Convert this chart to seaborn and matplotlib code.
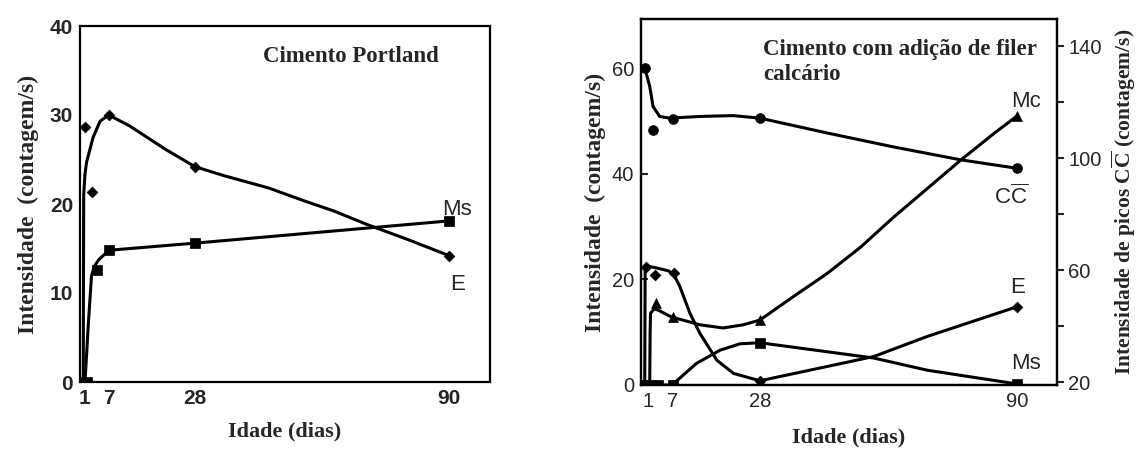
import matplotlib
matplotlib.use("Agg")
import matplotlib.pyplot as plt
import seaborn as sns
import numpy as np
from matplotlib.ticker import FixedLocator, NullFormatter

sns.set_theme(style="white")
plt.rcParams["font.family"] = ["Liberation Sans", "DejaVu Sans"]
plt.rcParams["mathtext.fontset"] = "custom"
plt.rcParams["mathtext.bf"] = "Liberation Serif:bold"
plt.rcParams["mathtext.sf"] = "Liberation Sans"
plt.rcParams["mathtext.rm"] = "Liberation Sans"

# ---------------- Data: Cimento Portland (left) ----------------
x_ticks = [1, 7, 28, 90]
pc_E_days = [1.2, 2.9, 7, 28, 90]
pc_E_vals = [28.6, 21.3, 30.0, 24.2, 14.2]
pc_E_curve_days = [0.8, 0.85, 0.9, 1.2, 1.6, 3.2, 4.9, 7, 12, 17, 21, 28, 35, 46, 55, 62, 70, 80, 90]
pc_E_curve_vals = [0, 12, 21, 23.3, 24.7, 27.5, 29.3, 30.0, 28.8, 27.3, 26.1, 24.2, 23.2, 21.8, 20.3, 19.2, 17.7, 16.0, 14.2]

pc_Ms_days = [0.4, 1.6, 4.2, 7, 28, 90]
pc_Ms_vals = [0, 0, 12.6, 14.8, 15.6, 18.1]
pc_Ms_curve_days = [1.2, 1.6, 2.0, 2.8, 3.5, 4.5, 7, 28, 90]
pc_Ms_curve_vals = [0, 3.0, 6.3, 11.9, 13.0, 13.7, 14.8, 15.6, 18.1]

# ---------------- Data: Cimento com filer (right) ----------------
fc_CC_days = [0.2, 2.2, 7, 28, 90]            # right axis units
fc_CC_vals = [132.2, 109.9, 114.0, 114.3, 96.4]
fc_CC_curve_days = [0.2, 1.4, 2.2, 3.8, 6.2, 13.5, 21.5, 28, 44.2, 60.3, 76.5, 90]
fc_CC_curve_vals = [132.2, 125.7, 118.5, 114.9, 114.3, 114.9, 115.2, 114.3, 109.0, 104.0, 99.4, 96.4]

fc_E_days = [0.6, 2.7, 7.2, 28, 90]
fc_E_vals = [22.4, 20.8, 21.3, 0.8, 14.8]
fc_E_curve_days = [0.2, 0.3, 1.0, 3.4, 6.0, 7.5, 8.7, 11.1, 13.5, 17.6, 21.6, 28, 44.2, 55.5, 68.4, 90]
fc_E_curve_vals = [0, 22.4, 22.5, 22.1, 21.6, 20.5, 18.6, 13.6, 9.8, 4.7, 2.2, 0.8, 3.5, 5.4, 9.2, 14.8]

fc_Mc_days = [2.9, 7, 28, 90]
fc_Mc_vals = [15.5, 12.8, 12.4, 50.9]
fc_Mc_curve_days = [1.4, 1.5, 1.6, 2.5, 3.4, 6.6, 13.5, 19.1, 24, 28, 36, 44.2, 52.3, 60.3, 68.4, 76.5, 84.6, 90]
fc_Mc_curve_vals = [0, 10, 13.6, 14.4, 14.2, 12.9, 11.4, 10.8, 11.4, 12.3, 16.7, 21.1, 26.1, 31.8, 37.2, 42.6, 47.7, 50.9]

fc_Ms_days = [-0.2, 1.8, 3.4, 7, 28, 90]
fc_Ms_vals = [0, 0, 0, 0, 8.0, 0.2]
fc_Ms_curve_days = [-0.2, 7, 7.5, 12.7, 18.4, 23.2, 28, 44.2, 55.5, 68.4, 90]
fc_Ms_curve_vals = [0, 0, 0.5, 4.1, 6.6, 7.8, 8.0, 6.3, 5.1, 2.8, 0.2]

# ---------------- Figure ----------------
fig = plt.figure(figsize=(11.42, 4.49), dpi=100)
axL = fig.add_axes([80/1142, 1-382/449, 410/1142, 356/449])
axR = fig.add_axes([641/1142, 1-385/449, 416/1142, 366/449])

serif = ["Liberation Serif", "DejaVu Serif"]
LW = 2.2

def curve(ax, xs, ys):
    sns.lineplot(x=xs, y=ys, ax=ax, color="black", lw=LW, sort=False, estimator=None)

def marks(ax, xs, ys, m, s=38):
    sns.scatterplot(x=xs, y=ys, ax=ax, color="black", marker=m, s=s, edgecolor="black", linewidth=0.5, zorder=5)

# Left panel
curve(axL, pc_E_curve_days, pc_E_curve_vals)
curve(axL, pc_Ms_curve_days, pc_Ms_curve_vals)
marks(axL, pc_E_days, pc_E_vals, "D", 30)
marks(axL, pc_Ms_days, pc_Ms_vals, "s", 45)
axL.set_xlim(0, 100)
axL.set_ylim(0, 40)
axL.set_xticks(x_ticks)
axL.set_yticks([0, 10, 20, 30, 40])
for lab in axL.get_xticklabels() + axL.get_yticklabels():
    lab.set_fontweight("bold")
axL.tick_params(direction="in", length=5, width=1.5, labelsize=15, pad=5)
axL.set_xlabel("Idade (dias)", family=serif, fontweight="bold", fontsize=16, labelpad=10)
axL.set_ylabel("Intensidade  (contagem/s)", family=serif, fontweight="bold", fontsize=17, labelpad=8)
axL.text(0.661, 0.913, "Cimento Portland", transform=axL.transAxes, ha="center", va="center",
         family=serif, fontweight="bold", fontsize=16.5)
axL.text(92, 19.4, "Ms", ha="center", va="center", fontsize=16)
axL.text(92.2, 10.9, "E", ha="center", va="center", fontsize=16)

# Right panel
axR2 = axR.twinx()
axR2.set_position(axR.get_position())
curve(axR, fc_E_curve_days, fc_E_curve_vals)
curve(axR, fc_Mc_curve_days, fc_Mc_curve_vals)
curve(axR, fc_Ms_curve_days, fc_Ms_curve_vals)
marks(axR, fc_E_days, fc_E_vals, "D", 30)
marks(axR, fc_Mc_days, fc_Mc_vals, "^", 50)
marks(axR, fc_Ms_days, fc_Ms_vals, "s", 45)
curve(axR2, fc_CC_curve_days, fc_CC_curve_vals)
marks(axR2, fc_CC_days, fc_CC_vals, "o", 50)
axR.set_xlim(-0.7, 99.7)
axR.set_ylim(0, 69.3)
axR2.set_ylim(19.0, 149.7)
axR.set_xticks(x_ticks)
axR.set_yticks([0, 20, 40, 60])
axR2.set_yticks([20, 60, 100, 140])
axR2.yaxis.set_minor_locator(FixedLocator([40, 80, 120]))
axR2.yaxis.set_minor_formatter(NullFormatter())
axR.tick_params(direction="in", length=5, width=1.5, labelsize=14.5, pad=5)
axR2.tick_params(axis="y", which="both", direction="out", length=5, width=1.5, labelsize=14.5, pad=3, right=True)
axR.set_xlabel("Idade (dias)", family=serif, fontweight="bold", fontsize=16, labelpad=12)
axR.set_ylabel("Intensidade  (contagem/s)", family=serif, fontweight="bold", fontsize=17, labelpad=4)
axR2.set_ylabel(r"Intensidade de picos C$\mathbf{\overline{C}}$ (contagem/s)", family=serif,
                fontweight="bold", fontsize=15.5, labelpad=6)
axR.text(0.293, 0.8825, "Cimento com adição de filer\ncalcário", transform=axR.transAxes,
         ha="left", va="center", family=serif, fontweight="bold", fontsize=16.5, linespacing=1.3)
axR.text(92.2, 53.7, "Mc", ha="center", va="center", fontsize=16)
axR.text(88.5, 35.7, r"$\mathsf{C\overline{C}}$", ha="center", va="center", fontsize=16)
axR.text(90.2, 18.4, "E", ha="center", va="center", fontsize=16)
axR.text(92.2, 4.1, "Ms", ha="center", va="center", fontsize=16)

for ax in (axL, axR, axR2):
    for sp in ax.spines.values():
        sp.set_linewidth(1.6)
        sp.set_color("black")

fig.savefig("out.png", dpi=100, facecolor="white")
